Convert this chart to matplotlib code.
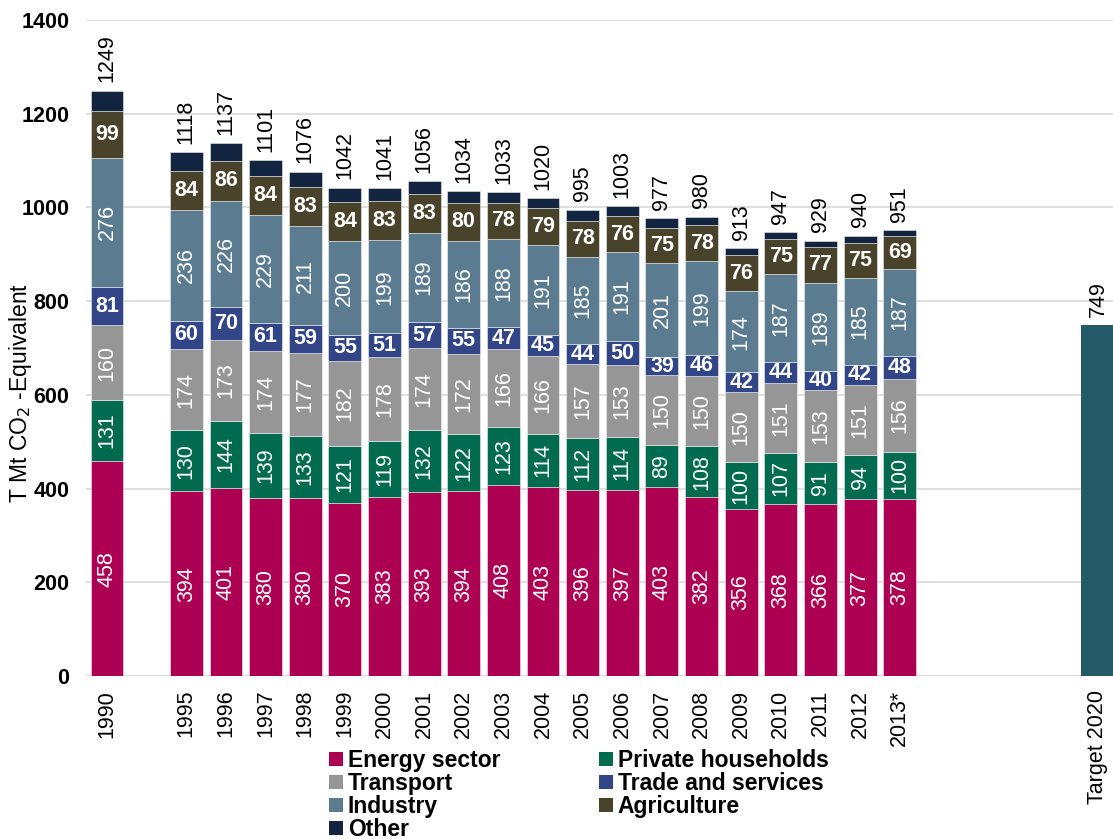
import matplotlib
matplotlib.use("Agg")
import matplotlib.pyplot as plt
from matplotlib.patches import Patch

plt.rcParams['font.family'] = ['Liberation Sans', 'DejaVu Sans']

years = ["1990", "1995", "1996", "1997", "1998", "1999", "2000", "2001", "2002", "2003",
         "2004", "2005", "2006", "2007", "2008", "2009", "2010", "2011", "2012", "2013*"]
positions = [0, 2, 3, 4, 5, 6, 7, 8, 9, 10, 11, 12, 13, 14, 15, 16, 17, 18, 19, 20]

energy = [458, 394, 401, 380, 380, 370, 383, 393, 394, 408, 403, 396, 397, 403, 382, 356, 368, 366, 377, 378]
households = [131, 130, 144, 139, 133, 121, 119, 132, 122, 123, 114, 112, 114, 89, 108, 100, 107, 91, 94, 100]
transport = [160, 174, 173, 174, 177, 182, 178, 174, 172, 166, 166, 157, 153, 150, 150, 150, 151, 153, 151, 156]
trade = [81, 60, 70, 61, 59, 55, 51, 57, 55, 47, 45, 44, 50, 39, 46, 42, 44, 40, 42, 48]
industry = [276, 236, 226, 229, 211, 200, 199, 189, 186, 188, 191, 185, 191, 201, 199, 174, 187, 189, 185, 187]
agriculture = [99, 84, 86, 84, 83, 84, 83, 83, 80, 78, 79, 78, 76, 75, 78, 76, 75, 77, 75, 69]
other = [44, 40, 37, 34, 33, 30, 28, 28, 25, 23, 22, 23, 22, 20, 17, 15, 15, 13, 16, 13]
totals = [1249, 1118, 1137, 1101, 1076, 1042, 1041, 1056, 1034, 1033, 1020, 995, 1003, 977, 980, 913, 947, 929, 940, 951]

target_label = "Target 2020"
target_pos = 25
target_value = 749

series = [
    ("Energy sector", energy, "#AD0052", True),
    ("Private households", households, "#006B4F", True),
    ("Transport", transport, "#969696", True),
    ("Trade and services", trade, "#324586", False),
    ("Industry", industry, "#5B7B90", True),
    ("Agriculture", agriculture, "#4A432B", False),
    ("Other", other, "#12243F", None),
]

FS = 15.5

fig = plt.figure(figsize=(11.13, 8.39), dpi=100)
ax = fig.add_axes([0.0773, 0.1943, 0.9227, 0.7819])

width = 0.83
bottoms = [0] * len(years)
for name, vals, color, rotated in series:
    ax.bar(positions, vals, width, bottom=bottoms, color=color,
           edgecolor=(1, 1, 1, 0.55), linewidth=0.6, zorder=3, label=name)
    if rotated is not None:
        for x, b, v in zip(positions, bottoms, vals):
            if rotated:
                ax.text(x, b + v / 2, str(v), rotation=90, ha='center', va='center',
                        color='white', fontsize=FS, zorder=4)
            else:
                ax.text(x, b + v / 2, str(v), ha='center', va='center',
                        color='white', fontsize=FS, fontweight='bold', zorder=4)
    bottoms = [b + v for b, v in zip(bottoms, vals)]

for x, t in zip(positions, totals):
    ax.annotate(str(t), (x, t), xytext=(0, 6), textcoords='offset points',
                rotation=90, ha='center', va='bottom', fontsize=FS, color='black')

ax.bar([target_pos], [target_value], width, color="#245A68", zorder=3)
ax.annotate(str(target_value), (target_pos, target_value), xytext=(0, 6),
            textcoords='offset points', rotation=90, ha='center', va='bottom',
            fontsize=FS, color='black')

ax.set_xlim(-0.53, 25.38)
ax.set_ylim(0, 1400)
ax.set_yticks(range(0, 1401, 200))
ax.set_yticklabels([str(v) for v in range(0, 1401, 200)], fontsize=FS, fontweight='bold')
ax.set_xticks(positions + [target_pos])
ax.set_xticklabels(years + [target_label], rotation=90, fontsize=FS)
ax.tick_params(axis='both', length=0)
ax.tick_params(axis='y', pad=12)
ax.tick_params(axis='x', pad=10)
for s in ax.spines.values():
    s.set_visible(False)
ax.grid(axis='y', color='#D9D9D9', linewidth=1.2, zorder=0)
ax.axhline(0, color='#D9D9D9', linewidth=1.5, zorder=1)
ax.set_axisbelow(True)

fig.text(0.018, 1 - 393 / 839, "T Mt CO$_2$ -Equivalent", rotation=90,
         ha='center', va='center', fontsize=16.5)

handles = [Patch(facecolor=c, edgecolor='none') for _, _, c, _ in series]
labels = [n for n, _, _, _ in series]
order = [0, 2, 4, 6, 1, 3, 5]
leg = fig.legend([handles[i] for i in order], [labels[i] for i in order],
                 loc='upper left', bbox_to_anchor=(329 / 1113, 1 - 749 / 839),
                 ncol=2, frameon=False, borderpad=0, borderaxespad=0,
                 handlelength=0.62, handleheight=0.62, handletextpad=0.2,
                 labelspacing=0.0, columnspacing=4.3,
                 prop={'size': 16.5, 'weight': 'bold'})

fig.savefig("out.png", dpi=100)
